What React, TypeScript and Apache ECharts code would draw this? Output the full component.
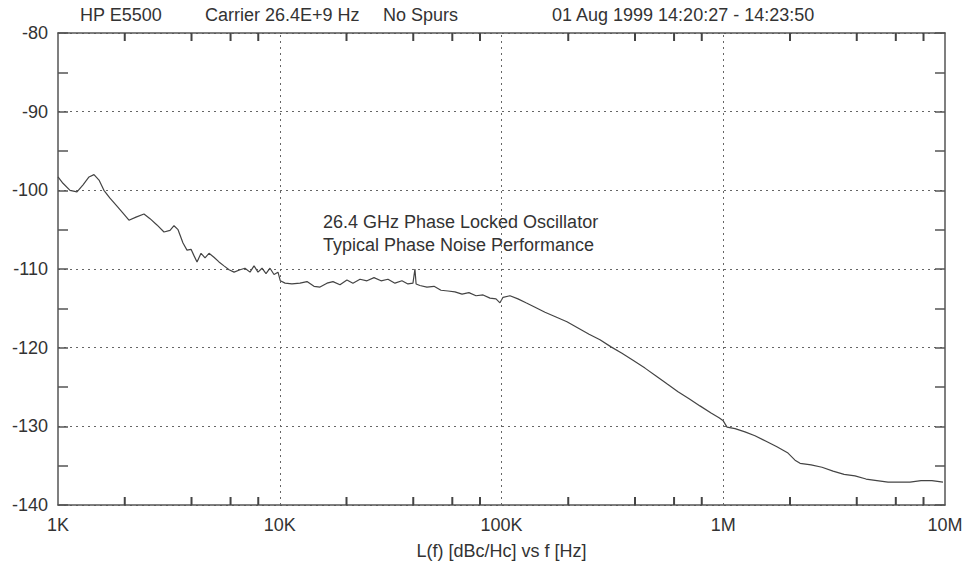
import React, { useEffect, useRef } from "react";
import * as echarts from "echarts";

// Offset frequency (Hz) and phase noise L(f) (dBc/Hz)
const freqHz = [
  1000, 1053, 1133, 1218, 1297, 1380, 1453, 1531, 1611, 1715, 1845, 1964, 2089, 2248, 2442, 2600, 2794, 3006,
  3200, 3335, 3478, 3662, 3817, 3981, 4104, 4236, 4416, 4603, 4797, 5050, 5321, 5605, 5905, 6222, 6622, 6970,
  7343, 7656, 7980, 8318, 8670, 9037, 9420, 9818, 10060, 10570, 11350, 12340, 13270, 14270, 15190, 16330,
  17380, 18690, 20090, 21380, 23010, 24740, 26610, 28620, 30760, 33080, 35560, 37850, 39880, 40700, 41200,
  42860, 46100, 49620, 53330, 57380, 61660, 66370, 71290, 76740, 82600, 88750, 94440, 98410, 101600, 109200,
  118600, 128900, 140200, 157100, 176100, 197300, 221300, 248300, 278000, 311900, 349300, 391700, 443600,
  497700, 557200, 625200, 701500, 785200, 881000, 957200, 1000000, 1040000, 1130000, 1253000, 1390000,
  1560000, 1746000, 1959000, 2107000, 2220000, 2490000, 2788000, 3127000, 3507000, 3927000, 4405000, 4932000,
  5534000, 6209000, 6950000, 7798000, 8730000, 9795000,
];
const noiseDbc = [
  -98.3, -99.1, -100.0, -100.2, -99.3, -98.3, -98.0, -98.7, -100.0, -101.0, -102.0, -102.9, -103.8, -103.4,
  -103.0, -103.6, -104.4, -105.3, -105.1, -104.5, -105.0, -106.7, -107.6, -107.5, -108.3, -109.1, -108.0,
  -108.6, -108.0, -108.5, -109.1, -109.6, -110.1, -110.4, -110.1, -109.9, -110.4, -109.6, -110.4, -109.9,
  -110.6, -109.9, -110.7, -110.4, -111.5, -111.8, -111.9, -111.8, -111.6, -112.2, -112.3, -111.8, -111.6,
  -112.0, -111.4, -111.8, -111.3, -111.5, -111.1, -111.5, -111.3, -111.8, -111.5, -111.9, -111.8, -110.0,
  -111.9, -112.1, -112.3, -112.2, -112.7, -112.8, -112.9, -113.2, -113.0, -113.4, -113.3, -113.7, -113.8,
  -114.3, -113.6, -113.4, -113.8, -114.3, -114.8, -115.5, -116.1, -116.7, -117.5, -118.3, -119.0, -119.9,
  -120.7, -121.6, -122.6, -123.6, -124.6, -125.6, -126.5, -127.4, -128.3, -128.9, -129.3, -130.1, -130.3,
  -130.7, -131.2, -131.9, -132.6, -133.4, -134.3, -134.7, -134.9, -135.2, -135.7, -136.1, -136.3, -136.7,
  -136.9, -137.1, -137.1, -137.1, -136.9, -136.9, -137.1,
];

const xTickValues = [1e3, 1e4, 1e5, 1e6, 1e7];
const xTickLabels = ["1K", "10K", "100K", "1M", "10M"];
const xMinorMultipliers = [2, 4, 6, 8];
const yMin = -140;
const yMax = -80;
const yStep = 10;

const headerTexts = ["HP E5500", "Carrier 26.4E+9 Hz", "No Spurs", "01 Aug 1999 14:20:27 - 14:23:50"];
const noteLines = ["26.4 GHz Phase Locked Oscillator", "Typical Phase Noise Performance"];
const xAxisName = "L(f) [dBc/Hc] vs f [Hz]";

const FONT = "'Liberation Sans', Arial, Helvetica, sans-serif";
const TEXT_COLOR = "#333";
const AXIS_COLOR = "#555";
const GRID_COLOR = "#666";

export default function App() {
  const ref = useRef<HTMLDivElement>(null);

  useEffect(() => {
    if (!ref.current) return;
    const chart = echarts.init(ref.current, undefined, { renderer: "svg" });

    // The frequency axis is logarithmic: a value axis in decades (log10 Hz).
    const lg = (v: number) => Math.log10(v);
    const decades = xTickValues.map(lg);
    const minorTicks: number[] = [];
    xTickValues.slice(0, -1).forEach((d) => xMinorMultipliers.forEach((m) => minorTicks.push(lg(d * m))));

    const fmtX = (v: number) => {
      const i = decades.findIndex((t) => Math.abs(t - v) < 1e-6);
      return i >= 0 ? xTickLabels[i] : "";
    };

    const seriesData = freqHz.map((f, i) => [lg(f), noiseDbc[i]]);

    const gridStyle = { color: GRID_COLOR, width: 1, type: [2, 4] };
    const TICK_PX = 8;

    const baseX = {
      type: "value",
      min: decades[0],
      max: decades[decades.length - 1],
      interval: 1,
      axisLine: { show: true, onZero: false, lineStyle: { color: AXIS_COLOR, width: 1.5 } },
      axisTick: { show: false },
      splitLine: { show: false },
    };
    const baseY = {
      type: "value",
      min: yMin,
      max: yMax,
      interval: yStep,
      axisLine: { show: true, onZero: false, lineStyle: { color: AXIS_COLOR, width: 1.5 } },
      axisTick: { show: true, inside: true, length: 10, lineStyle: { color: AXIS_COLOR, width: 1.5 } },
      minorTick: { show: true, splitNumber: 2, length: 10, lineStyle: { color: AXIS_COLOR, width: 1.5 } },
    };

    const textStyle = { fontFamily: FONT, fontSize: 18, fill: TEXT_COLOR };
    const headerX = [80, 205, 383, 552];

    chart.setOption({
      animation: false,
      backgroundColor: "#fff",
      textStyle: { fontFamily: FONT },
      grid: { left: 58, right: 18, top: 33, bottom: 66, containLabel: false, outerBoundsMode: "none" },
      xAxis: [
        {
          ...baseX,
          position: "bottom",
          axisLabel: {
            show: true,
            formatter: fmtX,
            margin: 11,
            color: TEXT_COLOR,
            fontSize: 18,
            fontFamily: FONT,
          },
          name: xAxisName,
          nameLocation: "middle",
          nameGap: 37,
          nameTextStyle: { color: TEXT_COLOR, fontSize: 18, fontFamily: FONT },
        },
        { ...baseX, position: "top", axisLabel: { show: false } },
      ],
      yAxis: [
        {
          ...baseY,
          position: "left",
          axisLabel: { show: true, margin: 10, color: TEXT_COLOR, fontSize: 18, fontFamily: FONT },
          splitLine: { show: true, lineStyle: gridStyle },
        },
        { ...baseY, position: "right", axisLabel: { show: false }, splitLine: { show: false } },
      ],
      series: [
        {
          type: "line",
          xAxisIndex: 0,
          yAxisIndex: 0,
          data: seriesData,
          showSymbol: false,
          symbol: "none",
          silent: true,
          lineStyle: { color: "#444", width: 1.2 },
          markLine: {
            silent: true,
            symbol: ["none", "none"],
            label: { show: false },
            lineStyle: gridStyle,
            data: decades.slice(1, -1).map((v) => ({ xAxis: v })),
          },
        },
        {
          // minor ticks (2, 4, 6, 8 per decade) on the bottom and top frequency axes
          type: "custom",
          xAxisIndex: 0,
          yAxisIndex: 0,
          silent: true,
          clip: false,
          z: 5,
          data: minorTicks.map((v) => [v]),
          encode: { x: 0 },
          renderItem: (_params: any, api: any) => {
            const b = api.coord([api.value(0), yMin]);
            const t = api.coord([api.value(0), yMax]);
            const style = { stroke: "#444", lineWidth: 2, fill: null };
            return {
              type: "group",
              children: [
                { type: "line", shape: { x1: b[0], y1: b[1], x2: b[0], y2: b[1] - TICK_PX }, style },
                { type: "line", shape: { x1: t[0], y1: t[1], x2: t[0], y2: t[1] + TICK_PX }, style },
              ],
            };
          },
        },
      ],
      graphic: [
        ...headerTexts.map((t, i) => ({
          type: "text",
          x: headerX[i],
          y: 15,
          style: { ...textStyle, text: t, verticalAlign: "middle" },
        })),
        ...noteLines.map((t, i) => ({
          type: "text",
          x: 323,
          y: 222 + i * 23,
          style: { ...textStyle, text: t, verticalAlign: "middle" },
        })),
      ],
    });

    return () => chart.dispose();
  }, []);

  return (
    <div
      ref={ref}
      style={{ position: "fixed", left: 0, top: 0, width: 963, height: 571, background: "#fff" }}
    />
  );
}
